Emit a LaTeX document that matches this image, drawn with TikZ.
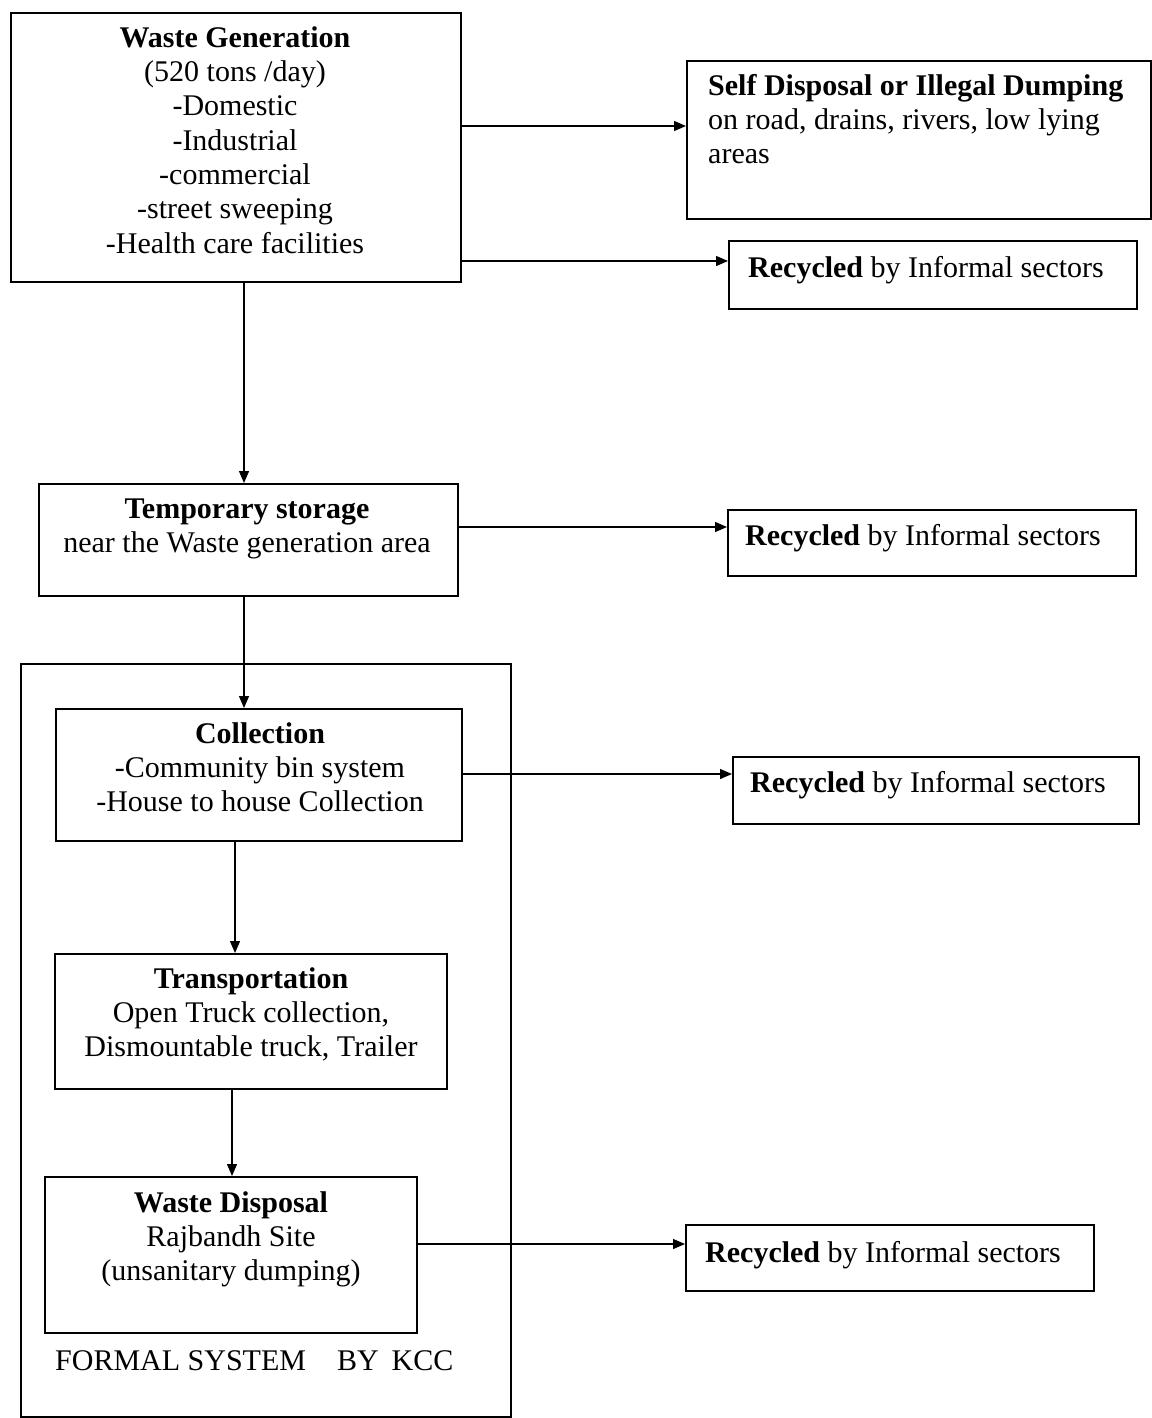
\documentclass[tikz,border=0pt]{standalone}
\usepackage{fontspec}
\setmainfont{Liberation Serif}
\usetikzlibrary{arrows.meta}
\tikzset{
  bx/.style={draw, line width=1.6pt, inner sep=0pt, anchor=north west, fill=white},
  frame/.style={draw, line width=1.6pt, inner sep=0pt, anchor=north west},
  txt/.style={inner sep=0pt, align=center, anchor=north, font=\fontsize{30}{34.3}\selectfont},
  ltxt/.style={inner sep=0pt, align=left, anchor=north west, font=\fontsize{30}{34.3}\selectfont},
  rtxt/.style={inner sep=0pt, anchor=base west, font=\fontsize{30}{34.3}\selectfont},
  arr/.style={line width=1.3pt, -{Triangle[length=12pt,width=10pt]}}
}
\begin{document}
\begin{tikzpicture}[x=1pt,y=-1pt]
\useasboundingbox[fill=white] (0,0) rectangle (1151,1418);

% formal system frame
\node[frame, minimum width=490pt, minimum height=753pt] (formal) at (20,663) {};

% boxes
\node[bx, minimum width=450pt, minimum height=269pt] (gen) at (10,12) {};
\node[bx, minimum width=464pt, minimum height=158pt] (selfd) at (686,60) {};
\node[bx, minimum width=408pt, minimum height=68pt] (rec1) at (728,240) {};
\node[bx, minimum width=419pt, minimum height=112pt] (temp) at (38,483) {};
\node[bx, minimum width=408pt, minimum height=66pt] (rec2) at (727,509) {};
\node[bx, minimum width=406pt, minimum height=132pt] (coll) at (55,708) {};
\node[bx, minimum width=406pt, minimum height=67pt] (rec3) at (732,756) {};
\node[bx, minimum width=392pt, minimum height=135pt] (trans) at (54,953) {};
\node[bx, minimum width=372pt, minimum height=156pt] (disp) at (44,1176) {};
\node[bx, minimum width=408pt, minimum height=66pt] (rec4) at (685,1224) {};

% texts
\node[txt] (gentxt) at (235,23) {\strut\textbf{Waste Generation}\\(520 tons /day)\\-Domestic\\-Industrial\\-commercial\\-street sweeping\\-Health care facilities};
\node[ltxt] (selfdtxt) at (708,71) {\strut\textbf{Self Disposal or Illegal Dumping}\\on road, drains, rivers, low lying\\areas};
\node[rtxt] (rec1txt) at (748,277) {\textbf{Recycled} by Informal sectors};
\node[txt] (temptxt) at (247,494) {\strut\textbf{Temporary storage}\\near the Waste generation area};
\node[rtxt] (rec2txt) at (745,545) {\textbf{Recycled} by Informal sectors};
\node[txt] (colltxt) at (260,719) {\strut\textbf{Collection}\\-Community bin system\\-House to house Collection};
\node[rtxt] (rec3txt) at (750,792) {\textbf{Recycled} by Informal sectors};
\node[txt] (transtxt) at (251,964) {\strut\textbf{Transportation}\\Open Truck collection,\\Dismountable truck, Trailer};
\node[txt] (disptxt) at (231,1188) {\strut\textbf{Waste Disposal}\\Rajbandh Site\\(unsanitary dumping)};
\node[rtxt] (rec4txt) at (705,1262) {\textbf{Recycled} by Informal sectors};
\node[rtxt] (formaltxt) at (55,1370) {FORMAL SYSTEM\hspace{31pt}BY\hspace{13pt}KCC};

% helper coordinates
\coordinate (h1) at (0,126);
\coordinate (h2) at (0,261);
\coordinate (h3) at (0,527);
\coordinate (h4) at (0,774);
\coordinate (h5) at (0,1244);
\coordinate (v1) at (244,0);
\coordinate (v2) at (235,0);
\coordinate (v3) at (232,0);

% connectors
\draw[arr] (gen.east |- h1) -- (selfd.west |- h1);
\draw[arr] (gen.east |- h2) -- (rec1.west |- h2);
\draw[arr] (temp.east |- h3) -- (rec2.west |- h3);
\draw[arr] (coll.east |- h4) -- (rec3.west |- h4);
\draw[arr] (disp.east |- h5) -- (rec4.west |- h5);
\draw[arr] (gen.south -| v1) -- (temp.north -| v1);
\draw[arr] (temp.south -| v1) -- (coll.north -| v1);
\draw[arr] (coll.south -| v2) -- (trans.north -| v2);
\draw[arr] (trans.south -| v3) -- (disp.north -| v3);
\end{tikzpicture}
\end{document}
